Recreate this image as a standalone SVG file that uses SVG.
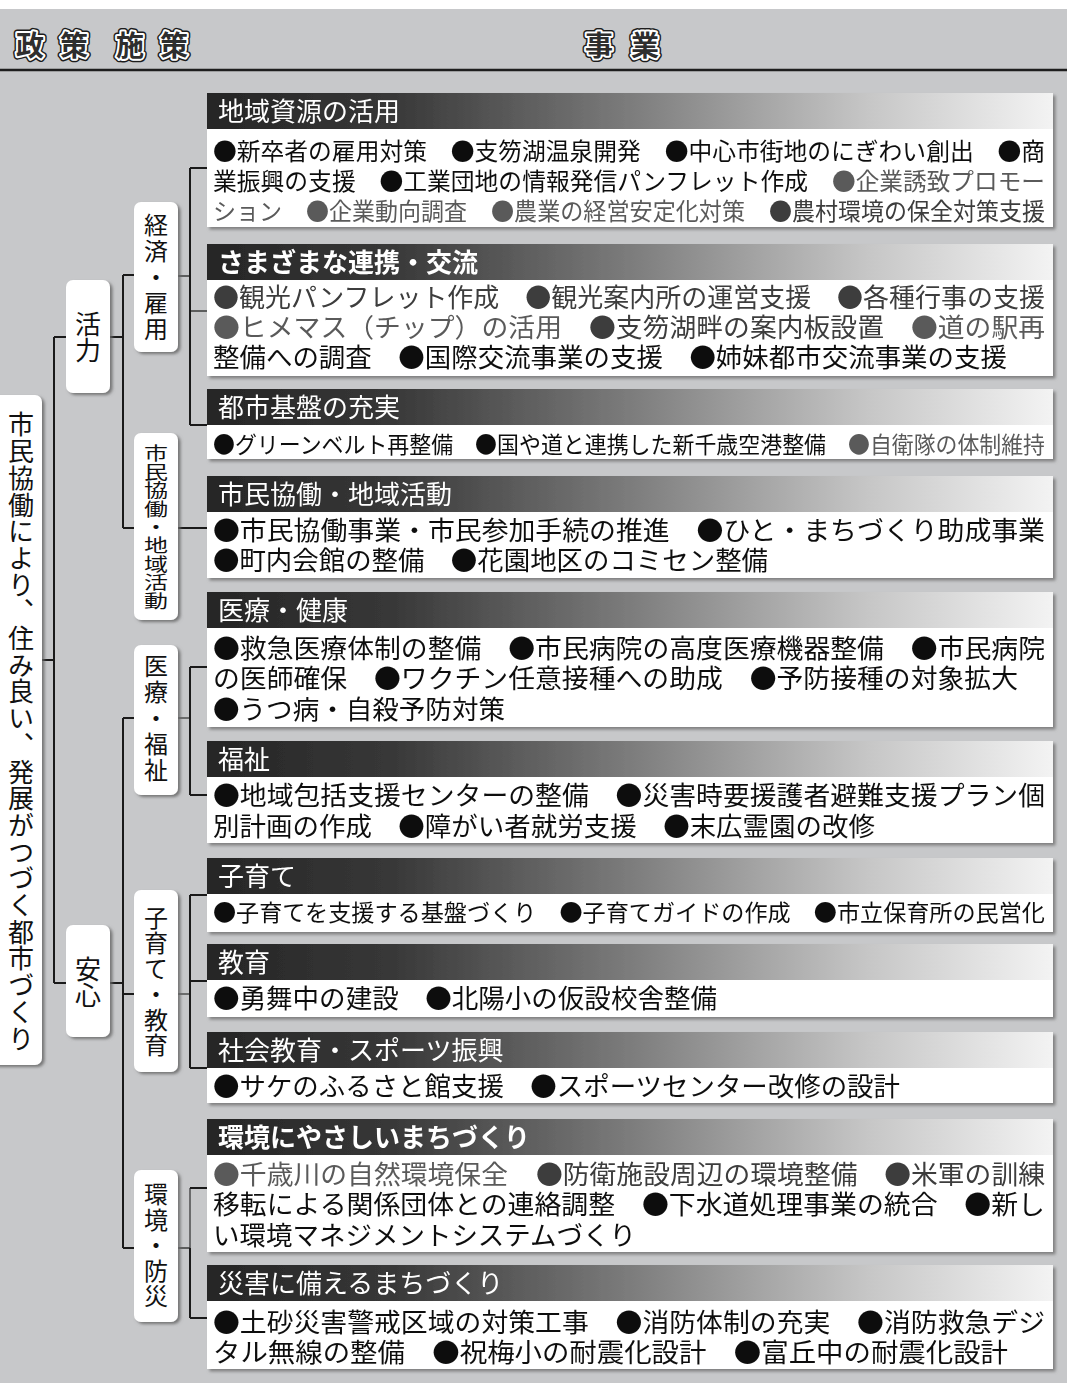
<svg xmlns="http://www.w3.org/2000/svg" width="1067" height="1383" viewBox="0 0 1067 1383">
<defs>
<linearGradient id="hg" x1="0" y1="0" x2="1" y2="0">
<stop offset="0" stop-color="#252525"/>
<stop offset="0.22" stop-color="#383838"/>
<stop offset="0.5" stop-color="#7c7c7c"/>
<stop offset="0.78" stop-color="#c6c6c6"/>
<stop offset="1" stop-color="#f3f3f3"/>
</linearGradient>
<filter id="sh" x="-10%" y="-10%" width="125%" height="125%">
<feDropShadow dx="2.5" dy="2.5" stdDeviation="1.5" flood-color="#6e6e6e" flood-opacity="0.8"/>
</filter>
<filter id="sh2" x="-30%" y="-10%" width="160%" height="125%">
<feDropShadow dx="2.5" dy="2" stdDeviation="1.8" flood-color="#666" flood-opacity="0.85"/>
</filter>
</defs>
<style>
.bg{fill:#c7c8ca}
.ht{font-family:"Noto Sans CJK JP","Noto Sans CJK SC",sans-serif;font-size:28px;font-weight:700;text-anchor:middle}
.ho{stroke:#1c1c1c;stroke-width:7;fill:#1c1c1c;stroke-linejoin:round}
.hw{stroke:#ffffff;stroke-width:4;fill:#ffffff;stroke-linejoin:round}
.hf{fill:#2e2e2e}
.lv{fill:#ffffff;filter:url(#sh2)}
.vt{font-family:"Noto Sans CJK JP","Noto Sans CJK SC",sans-serif;fill:#111;writing-mode:vertical-rl;text-anchor:middle}
.hd{fill:url(#hg)}
.bd{fill:#ffffff}
.box{filter:url(#sh)}
.tt{font-family:"Noto Sans CJK JP","Noto Sans CJK SC",sans-serif;font-size:26px;fill:#ffffff}
.tb{font-weight:700}
.tx{font-family:"Noto Sans CJK JP","Noto Sans CJK SC",sans-serif;font-size:26px;fill:#111}
.s24{font-size:24px}
.s23{font-size:23px}
.g{fill:#5a5a5a}
.g2{fill:#3c3c3c}
.cn{fill:none;stroke:#1a1a1a;stroke-width:2}
.cn2{fill:none;stroke:#3a3a3a;stroke-width:1.3}
</style>
<rect x="0" y="0" width="1067" height="1383" class="bg"/>
<rect x="0" y="0" width="1067" height="9" fill="#ffffff"/>
<line x1="0" y1="70" x2="1067" y2="70" stroke="#1e1e1e" stroke-width="2.5"/>

<g id="header">
<g class="ht ho"><text x="30" y="56">政</text><text x="74" y="56">策</text><text x="130" y="56">施</text><text x="174" y="56">策</text><text x="599" y="56">事</text><text x="645" y="56">業</text></g>
<g class="ht hw"><text x="30" y="56">政</text><text x="74" y="56">策</text><text x="130" y="56">施</text><text x="174" y="56">策</text><text x="599" y="56">事</text><text x="645" y="56">業</text></g>
<g class="ht hf"><text x="30" y="56">政</text><text x="74" y="56">策</text><text x="130" y="56">施</text><text x="174" y="56">策</text><text x="599" y="56">事</text><text x="645" y="56">業</text></g>
</g>

<g id="connectors">
<path class="cn" d="M42 660H54M54 337V983M54 337H66M54 983H66"/>
<path class="cn" d="M110 337H123M123 275V528M123 275H134M123 528H134"/>
<path class="cn" d="M110 983H123M123 718V1248M123 718H134M123 994H134M123 1248H134"/>
<path class="cn2" d="M178 276H190M190 311H207"/>
<path class="cn" d="M190 168V425M190 168H207M190 425H207"/>
<path class="cn" d="M178 528H207"/>
<path class="cn2" d="M178 718H190"/>
<path class="cn" d="M190 667V795M190 667H207M190 795H207"/>
<path class="cn2" d="M178 994H190"/>
<path class="cn" d="M190 895V1068M190 895H207M190 981H207M190 1068H207"/>
<path class="cn2" d="M178 1248H190M190 1188V1248"/>
<path class="cn" d="M190 1248V1318M190 1188H207M190 1318H207"/>
</g>

<g id="root">
<rect x="-10" y="395" width="52" height="670" rx="7" class="lv"/>
<text x="21" y="732" class="vt" font-size="26" letter-spacing="0.7">市民協働により、住み良い、発展がつづく都市づくり</text>
</g>
<g id="katsuryoku">
<rect x="66" y="280" width="44" height="113" rx="7" class="lv"/>
<text x="88" y="337" class="vt" font-size="26">活力</text>
</g>
<g id="anshin">
<rect x="66" y="925" width="44" height="112" rx="7" class="lv"/>
<text x="88" y="982" class="vt" font-size="26">安心</text>
</g>
<g id="keizai">
<rect x="134" y="202" width="44" height="150" rx="7" class="lv"/>
<text x="156" y="278" class="vt" font-size="24" letter-spacing="2">経済・雇用</text>
</g>
<g id="shimin">
<rect x="134" y="433" width="44" height="187" rx="7" class="lv"/>
<text x="156" y="527" class="vt" font-size="24" textLength="166" lengthAdjust="spacingAndGlyphs">市民協働・地域活動</text>
</g>
<g id="iryo">
<rect x="134" y="645" width="44" height="150" rx="7" class="lv"/>
<text x="156" y="719" class="vt" font-size="24" letter-spacing="2">医療・福祉</text>
</g>
<g id="kosodate">
<rect x="134" y="890" width="44" height="182" rx="7" class="lv"/>
<text x="156" y="982" class="vt" font-size="24" letter-spacing="1.5">子育て・教育</text>
</g>
<g id="kankyo">
<rect x="134" y="1170" width="44" height="152" rx="7" class="lv"/>
<text x="156" y="1246" class="vt" font-size="24" letter-spacing="1.5">環境・防災</text>
</g>

<g id="b1" class="box">
<rect x="207" y="93" width="846" height="36" class="hd"/>
<rect x="207" y="129" width="846" height="98" class="bd"/>
<text x="218" y="121" class="tt">地域資源の活用</text>
<text x="213" y="160" class="tx s24" textLength="832" lengthAdjust="spacingAndGlyphs">●新卒者の雇用対策　●支笏湖温泉開発　●中心市街地のにぎわい創出　●商</text>
<text x="213" y="190" class="tx s24" textLength="595" lengthAdjust="spacingAndGlyphs">業振興の支援　●工業団地の情報発信パンフレット作成</text>
<text x="832" y="190" class="tx s24 g" textLength="213" lengthAdjust="spacingAndGlyphs">●企業誘致プロモー</text>
<text x="213" y="220" class="tx s24 g" textLength="69" lengthAdjust="spacingAndGlyphs">ション</text>
<text x="306" y="220" class="tx s24 g" textLength="161" lengthAdjust="spacingAndGlyphs">●企業動向調査</text>
<text x="491" y="220" class="tx s24 g" textLength="254" lengthAdjust="spacingAndGlyphs">●農業の経営安定化対策</text>
<text x="769" y="220" class="tx s24 g2" textLength="276" lengthAdjust="spacingAndGlyphs">●農村環境の保全対策支援</text>
</g>
<g id="b2" class="box">
<rect x="207" y="244" width="846" height="36" class="hd"/>
<rect x="207" y="280" width="846" height="96" class="bd"/>
<text x="218" y="272" class="tt tb">さまざまな連携・交流</text>
<text x="213" y="307" class="tx g2" textLength="832" lengthAdjust="spacingAndGlyphs">●観光パンフレット作成　●観光案内所の運営支援　●各種行事の支援</text>
<text x="213" y="337" class="tx g" textLength="349" lengthAdjust="spacingAndGlyphs">●ヒメマス（チップ）の活用</text>
<text x="589" y="337" class="tx g2" textLength="295" lengthAdjust="spacingAndGlyphs">●支笏湖畔の案内板設置</text>
<text x="911" y="337" class="tx g" textLength="134" lengthAdjust="spacingAndGlyphs">●道の駅再</text>
<text x="213" y="367" class="tx" textLength="794" lengthAdjust="spacingAndGlyphs">整備への調査　●国際交流事業の支援　●姉妹都市交流事業の支援</text>
</g>
<g id="b3" class="box">
<rect x="207" y="389" width="846" height="36" class="hd"/>
<rect x="207" y="425" width="846" height="34" class="bd"/>
<text x="218" y="417" class="tt">都市基盤の充実</text>
<text x="213" y="453" class="tx s23" textLength="613" lengthAdjust="spacingAndGlyphs">●グリーンベルト再整備　●国や道と連携した新千歳空港整備</text>
<text x="848" y="453" class="tx s23 g" textLength="197" lengthAdjust="spacingAndGlyphs">●自衛隊の体制維持</text>
</g>
<g id="b4" class="box">
<rect x="207" y="476" width="846" height="36" class="hd"/>
<rect x="207" y="512" width="846" height="66" class="bd"/>
<text x="218" y="504" class="tt">市民協働・地域活動</text>
<text x="213" y="540" class="tx" textLength="832" lengthAdjust="spacingAndGlyphs">●市民協働事業・市民参加手続の推進　●ひと・まちづくり助成事業</text>
<text x="213" y="570" class="tx" textLength="555" lengthAdjust="spacingAndGlyphs">●町内会館の整備　●花園地区のコミセン整備</text>
</g>
<g id="b5" class="box">
<rect x="207" y="592" width="846" height="36" class="hd"/>
<rect x="207" y="628" width="846" height="99" class="bd"/>
<text x="218" y="620" class="tt">医療・健康</text>
<text x="213" y="658" class="tx" textLength="832" lengthAdjust="spacingAndGlyphs">●救急医療体制の整備　●市民病院の高度医療機器整備　●市民病院</text>
<text x="213" y="688" class="tx" textLength="805" lengthAdjust="spacingAndGlyphs">の医師確保　●ワクチン任意接種への助成　●予防接種の対象拡大</text>
<text x="213" y="719" class="tx" textLength="292" lengthAdjust="spacingAndGlyphs">●うつ病・自殺予防対策</text>
</g>
<g id="b6" class="box">
<rect x="207" y="741" width="846" height="36" class="hd"/>
<rect x="207" y="777" width="846" height="66" class="bd"/>
<text x="218" y="769" class="tt">福祉</text>
<text x="213" y="805" class="tx" textLength="832" lengthAdjust="spacingAndGlyphs">●地域包括支援センターの整備　●災害時要援護者避難支援プラン個</text>
<text x="213" y="836" class="tx" textLength="662" lengthAdjust="spacingAndGlyphs">別計画の作成　●障がい者就労支援　●末広霊園の改修</text>
</g>
<g id="b7" class="box">
<rect x="207" y="858" width="846" height="36" class="hd"/>
<rect x="207" y="894" width="846" height="38" class="bd"/>
<text x="218" y="886" class="tt">子育て</text>
<text x="213" y="921" class="tx s23" textLength="832" lengthAdjust="spacingAndGlyphs">●子育てを支援する基盤づくり　●子育てガイドの作成　●市立保育所の民営化</text>
</g>
<g id="b8" class="box">
<rect x="207" y="944" width="846" height="36" class="hd"/>
<rect x="207" y="980" width="846" height="37" class="bd"/>
<text x="218" y="972" class="tt">教育</text>
<text x="213" y="1008" class="tx" textLength="504" lengthAdjust="spacingAndGlyphs">●勇舞中の建設　●北陽小の仮設校舎整備</text>
</g>
<g id="b9" class="box">
<rect x="207" y="1032" width="846" height="36" class="hd"/>
<rect x="207" y="1068" width="846" height="35" class="bd"/>
<text x="218" y="1060" class="tt">社会教育・スポーツ振興</text>
<text x="213" y="1096" class="tx" textLength="687" lengthAdjust="spacingAndGlyphs">●サケのふるさと館支援　●スポーツセンター改修の設計</text>
</g>
<g id="b10" class="box">
<rect x="207" y="1119" width="846" height="36" class="hd"/>
<rect x="207" y="1155" width="846" height="97" class="bd"/>
<text x="218" y="1147" class="tt tb">環境にやさしいまちづくり</text>
<text x="213" y="1184" class="tx g" textLength="295" lengthAdjust="spacingAndGlyphs">●千歳川の自然環境保全</text>
<text x="536" y="1184" class="tx g2" textLength="509" lengthAdjust="spacingAndGlyphs">●防衛施設周辺の環境整備　●米軍の訓練</text>
<text x="213" y="1214" class="tx" textLength="832" lengthAdjust="spacingAndGlyphs">移転による関係団体との連絡調整　●下水道処理事業の統合　●新し</text>
<text x="213" y="1245" class="tx" textLength="423" lengthAdjust="spacingAndGlyphs">い環境マネジメントシステムづくり</text>
</g>
<g id="b11" class="box">
<rect x="207" y="1265" width="846" height="36" class="hd"/>
<rect x="207" y="1301" width="846" height="68" class="bd"/>
<text x="218" y="1293" class="tt">災害に備えるまちづくり</text>
<text x="213" y="1332" class="tx" textLength="832" lengthAdjust="spacingAndGlyphs">●土砂災害警戒区域の対策工事　●消防体制の充実　●消防救急デジ</text>
<text x="213" y="1362" class="tx" textLength="795" lengthAdjust="spacingAndGlyphs">タル無線の整備　●祝梅小の耐震化設計　●富丘中の耐震化設計</text>
</g>
</svg>
